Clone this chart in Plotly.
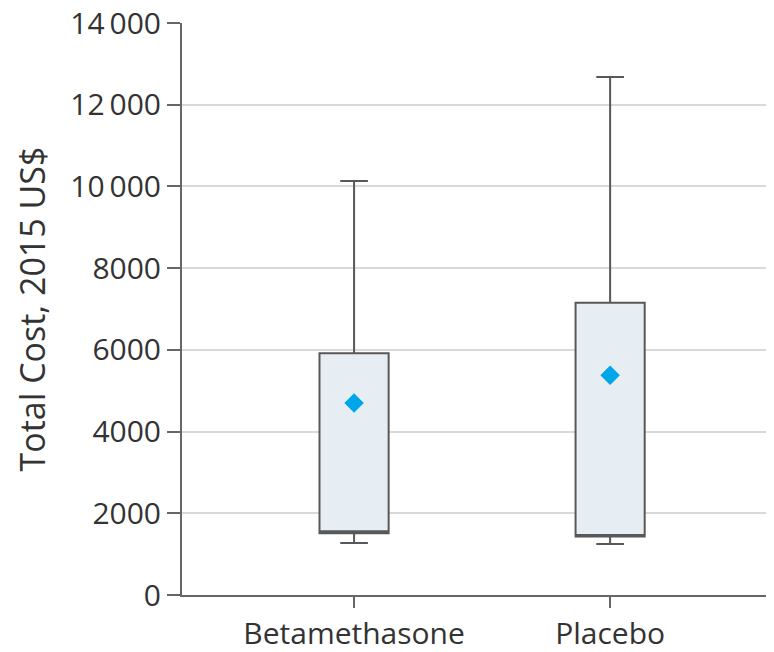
import plotly.graph_objects as go

categories = ["Betamethasone", "Placebo"]
lower_whisker = [1270, 1250]
q1 = [1510, 1430]
median = [1560, 1470]
q3 = [5920, 7150]
upper_whisker = [10130, 12680]
mean = [4700, 5380]

y_ticks = [0, 2000, 4000, 6000, 8000, 10000, 12000, 14000]
y_ticktext = ["0", "2000", "4000", "6000", "8000", "10\u2009000", "12\u2009000", "14\u2009000"]

fig = go.Figure()
fig.add_trace(go.Box(
    x=categories, q1=q1, median=median, q3=q3,
    lowerfence=lower_whisker, upperfence=upper_whisker,
    width=0.27, whiskerwidth=0.4,
    fillcolor="#e6eef3", line=dict(color="#585858", width=2),
    boxpoints=False, showlegend=False, hoverinfo="skip",
))
fig.add_trace(go.Scatter(
    x=categories, y=mean, mode="markers",
    marker=dict(symbol="diamond", size=15, color="#00a6ea"),
    showlegend=False, hoverinfo="skip",
))

font_family = "Open Sans, Liberation Sans, sans-serif"
fig.update_layout(
    width=766, height=644,
    margin=dict(l=174, r=0, t=15, b=57),
    plot_bgcolor="white", paper_bgcolor="white",
    font=dict(family=font_family, size=28, color="#333333"),
    xaxis=dict(
        range=[-0.672, 1.64], showgrid=False, automargin=False,
        showline=True, linecolor="#666666", linewidth=2,
        ticks="outside", ticklen=11, tickwidth=2, tickcolor="#666666",
        tickfont=dict(size=30),
    ),
    yaxis=dict(
        range=[0, 14000], tickvals=y_ticks, ticktext=y_ticktext,
        showgrid=True, gridcolor="#d9d9d9", gridwidth=1.5,
        zeroline=False, automargin=False, ticklabeloverflow="allow",
        showline=True, linecolor="#666666", linewidth=2,
        ticks="outside", ticklen=13, tickwidth=2, tickcolor="#666666",
        title=dict(text="Total Cost, 2015 US$", font=dict(size=34), standoff=14),
        tickfont=dict(size=30),
    ),
)
fig.write_html("out.html")
